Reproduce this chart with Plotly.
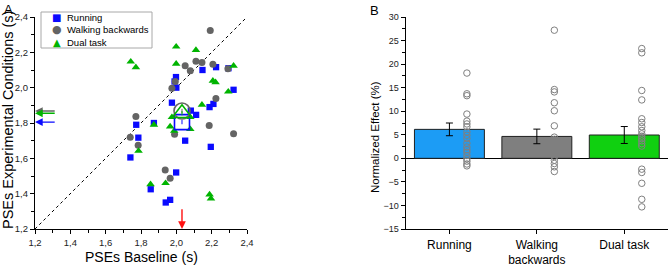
import plotly.graph_objects as go

# ---------------- Panel A data ----------------
run_x = [1.740, 1.773, 1.785, 1.873, 1.855, 1.940, 1.965, 1.999, 1.975, 1.990, 1.998, 2.000,
         2.050, 2.082, 2.112, 2.148, 2.188, 2.210, 2.195, 2.225, 2.295, 2.324]
run_y = [1.605, 1.790, 1.717, 1.800, 1.425, 1.350, 1.365, 1.520, 1.915, 2.035, 2.060, 2.000,
         1.700, 1.870, 1.846, 2.100, 1.890, 1.908, 1.665, 2.116, 2.110, 1.988]

walk_x = [1.739, 1.771, 1.784, 1.937, 1.965, 1.975, 1.994, 1.990, 2.050, 2.079, 2.111, 2.145,
          2.192, 2.207, 2.224, 2.186, 2.292, 2.324]
walk_y = [1.720, 1.837, 1.674, 1.534, 1.487, 1.997, 2.035, 1.737, 2.124, 2.096, 2.149, 2.143,
          2.323, 2.132, 1.939, 1.786, 2.107, 1.739]

dual_x = [1.742, 1.771, 1.786, 1.873, 1.854, 1.939, 1.999, 1.999, 2.111, 2.145, 2.207, 2.222,
          2.294, 2.324, 2.188, 2.196, 1.965, 1.975, 1.988, 2.079, 2.079]
dual_y = [2.147, 2.115, 1.642, 1.790, 1.453, 1.459, 2.232, 2.135, 2.213, 1.903, 2.039, 2.030,
          1.977, 2.124, 1.395, 1.372, 1.780, 1.833, 1.755, 1.765, 1.833]

series_names = ["Running", "Walking backwards", "Dual task"]

mean_base = 2.032
mean_run, mean_walk, mean_dual = 1.805, 1.868, 1.855
sem_small = 0.012

a_range = [1.2, 2.4]
a_ticks = [1.2, 1.4, 1.6, 1.8, 2.0, 2.2, 2.4]

# ---------------- Panel B data ----------------
categories = ["Running", "Walking<br>backwards", "Dual task"]
bar_means = [6.15, 4.65, 4.95]
bar_sem = [1.35, 1.55, 1.8]
bar_colors = ["#1c9cf5", "#7f7f7f", "#10d010"]

run_eff = [18.1, 13.7, 13.3, 9.4, 7.9, 7.3, 6.7, 5.6, 4.9, 4.2, 3.2, 2.4, 1.8, 1.3, 0.6,
           -0.1, -0.6, -1.2, -1.6]
walk_eff = [27.2, 14.6, 14.1, 11.8, 10.1, 6.9, 4.5, 4.0, 3.3, 2.5, 1.8, 1.1, 0.4, -0.4,
            -1.1, -1.8, -2.8]
dual_eff = [23.3, 22.4, 14.4, 12.4, 8.4, 7.6, 6.7, 5.9, 5.2, 4.7, 4.2, 3.7, 3.1, 2.6,
            -2.3, -3.0, -5.3, -8.7, -10.3]
b_ticks = [-15, -10, -5, 0, 5, 10, 15, 20, 25, 30]

BLUE = "#0a0aff"
GRAY = "#646464"
GREEN = "#00b400"
FONT = "Liberation Sans, Arial, sans-serif"
W, H = 669, 266

fig = go.Figure()

# diagonal reference
fig.add_trace(go.Scatter(x=a_range, y=a_range, mode="lines", showlegend=False,
                         line=dict(color="black", width=1, dash="3px,3px"),
                         xaxis="x", yaxis="y", hoverinfo="skip"))

fig.add_trace(go.Scatter(x=run_x, y=run_y, mode="markers", name=series_names[0], showlegend=False,
                         marker=dict(symbol="square", size=6.3, color=BLUE), xaxis="x", yaxis="y"))
fig.add_trace(go.Scatter(x=walk_x, y=walk_y, mode="markers", name=series_names[1], showlegend=False,
                         marker=dict(symbol="circle", size=7, color=GRAY), xaxis="x", yaxis="y"))
fig.add_trace(go.Scatter(x=dual_x, y=dual_y, mode="markers", name=series_names[2], showlegend=False,
                         marker=dict(symbol="triangle-up", size=7.5, color=GREEN), xaxis="x", yaxis="y"))

# means
for ym, sym, col, sz in [(mean_run, "square-open", BLUE, 15),
                         (mean_walk, "circle-open", GRAY, 16),
                         (mean_dual, "triangle-up-open", GREEN, 17)]:
    fig.add_trace(go.Scatter(x=[mean_base], y=[ym], mode="markers", showlegend=False,
                             marker=dict(symbol=sym, size=sz, color=col, line=dict(width=1.6, color=col)),
                             error_y=dict(type="constant", value=sem_small, color=col, thickness=1, width=0),
                             xaxis="x", yaxis="y"))

# Panel B bars
cat_idx = list(range(len(categories)))
fig.add_trace(go.Bar(x=cat_idx, y=bar_means, width=0.8, showlegend=False,
                     marker=dict(color=bar_colors, line=dict(color="#202020", width=1)),
                     error_y=dict(type="data", array=bar_sem, color="black", thickness=1, width=3.5),
                     xaxis="x2", yaxis="y2"))
for i, vals in enumerate([run_eff, walk_eff, dual_eff]):
    fig.add_trace(go.Scatter(x=[i + 0.2] * len(vals), y=vals, mode="markers", showlegend=False,
                             marker=dict(symbol="circle-open", size=6.5, color="#808080",
                                         line=dict(width=1, color="#808080")),
                             xaxis="x2", yaxis="y2"))

axis_common = dict(showline=True, linecolor="black", linewidth=1.3, ticks="outside",
                   tickcolor="black", ticklen=4, tickwidth=1, showgrid=False, zeroline=False,
                   automargin=False, tickfont=dict(family=FONT, size=9.5, color="#222"))

ann = []


def arrow(x, y, ax, ay, col):
    return dict(x=x, y=y, ax=ax, ay=ay, xref="x", yref="y", axref="x", ayref="y",
                text="", showarrow=True, arrowhead=2, arrowsize=1.1, arrowwidth=1.4,
                arrowcolor=col)


ann.append(arrow(a_range[0], mean_walk, 1.32, mean_walk, GRAY))
ann.append(arrow(a_range[0], mean_dual, 1.32, mean_dual, GREEN))
ann.append(arrow(a_range[0], mean_run, 1.32, mean_run, BLUE))
ann.append(arrow(mean_base, a_range[0], mean_base, 1.32, "#ff1010"))


def P(px, py):
    return px / W, 1 - py / H


def txt(text, px, py, size, angle=0, xanchor="center", yanchor="middle", color="black", family=FONT):
    x, y = P(px, py)
    return dict(text=text, x=x, y=y, xref="paper", yref="paper", showarrow=False,
                textangle=angle, xanchor=xanchor, yanchor=yanchor,
                font=dict(family=family, size=size, color=color))


ann += [
    txt("PSEs Baseline (s)", 141, 257, 14),
    txt("PSEs Experimental Conditions (s)", 8, 120, 14.5, angle=-90),
    txt("Normalized Effect (%)", 375, 137, 11.5, angle=-90),
    txt("A", 2, 0, 13, xanchor="left", yanchor="top"),
    txt("B", 368, 1, 13, xanchor="left", yanchor="top"),
]

# custom compact legend
leg_rows = [17.5, 29.5, 42]
leg_syms = ["■", "●", "▲"]
leg_cols = [BLUE, GRAY, GREEN]
leg_sizes = [10, 11, 10]
for name, sym, col, sz, ry in zip(series_names, leg_syms, leg_cols, leg_sizes, leg_rows):
    ann.append(txt(sym, 56.5, ry, sz, color=col, family="DejaVu Sans"))
    ann.append(txt(name, 65, ry, 9.5, xanchor="left"))

x0, y1 = P(41, 12)
x1, y0 = P(152, 48)
shapes = [dict(type="rect", xref="paper", yref="paper", x0=x0, x1=x1, y0=y0, y1=y1,
               line=dict(color="#a8a8a8", width=1), fillcolor="rgba(0,0,0,0)", layer="below")]

fig.update_layout(
    width=W, height=H, margin=dict(l=0, r=0, t=0, b=0, autoexpand=False),
    paper_bgcolor="white", plot_bgcolor="white", separators=",.",
    font=dict(family=FONT, color="black"), showlegend=False,
    xaxis=dict(domain=[35 / W, 247 / W], range=a_range, tickvals=a_ticks, tickformat=".1f",
               minor=dict(dtick=0.1, ticks="outside", ticklen=2.5, tickcolor="black"),
               anchor="y", **axis_common),
    yaxis=dict(domain=[1 - 229 / H, 1 - 17 / H], range=a_range, tickvals=a_ticks, tickformat=".1f",
               minor=dict(dtick=0.1, ticks="outside", ticklen=2.5, tickcolor="black"),
               anchor="x", **axis_common),
    xaxis2=dict(domain=[405.7 / W, 668 / W], range=[-0.5, 2.5], tickvals=cat_idx,
                ticktext=categories, anchor="y2",
                **{**axis_common, "tickfont": dict(family=FONT, size=12, color="black")}),
    yaxis2=dict(domain=[1 - 229 / H, 1 - 17 / H], range=[-15, 30], tickvals=b_ticks,
                minor=dict(dtick=2.5, ticks="outside", ticklen=2.5, tickcolor="black"),
                anchor="x2", **{**axis_common, "zeroline": True, "zerolinecolor": "black",
                                "zerolinewidth": 1.3, "tickfont": dict(family=FONT, size=9, color="#222")}),
    annotations=ann,
    shapes=shapes,
)

fig.write_html("out.html", config={"displayModeBar": False},
               post_script="document.body.style.margin='0';document.body.style.overflow='hidden';")
